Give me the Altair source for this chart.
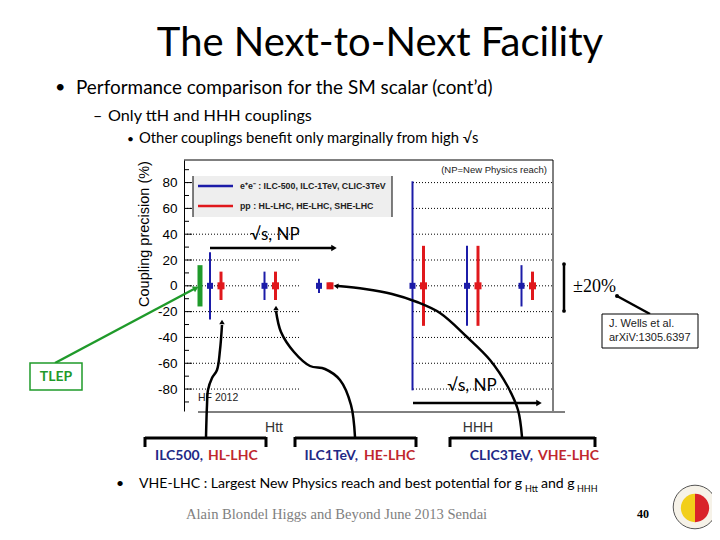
import altair as alt
import pandas as pd

# ---------------- data ----------------
ee_facilities = ["ILC-500", "ILC-1TeV", "CLIC-3TeV"]
pp_facilities = ["HL-LHC", "HE-LHC", "SHE-LHC"]
htt_ee = [26, 11, 5.5]      # Htt coupling precision (+/- %), e+e-
htt_pp = [11, 11, 2.5]      # Htt, pp
hhh_ee = [81, 31, 16]       # HHH, e+e-
hhh_pp = [31, 31, 11]       # HHH, pp
tlep_htt = [16]             # TLEP Htt
y_major = [-80, -60, -40, -20, 0, 20, 40, 60, 80]
y_minor = [-90, -70, -50, -30, -10, 10, 30, 50, 70, 90]
bracket_ee = ["ILC500,", "ILC1TeV,", "CLIC3TeV,"]
bracket_pp = ["HL-LHC", "HE-LHC", "VHE-LHC"]

# ---------------- layout ----------------
PX0, PY0, W, H = 184, 160, 369, 251
SLOT, SLOT0 = 54.5, 215.5
XMIN, XMAX = (PX0 - SLOT0) / SLOT, (PX0 + W - SLOT0) / SLOT
YMIN, YMAX = -97.0, 97.5
PANEL = {"Htt": 0.0, "HHH": (418 - SLOT0) / SLOT}
OFF = 5.5 / SLOT

BLUE, RED, GREEN = "#1c1ca8", "#e0181c", "#1f9a2a"
NAVY, DRED = "#1f2a86", "#c0272d"

xs = alt.Scale(domain=[XMIN, XMAX], nice=False, zero=False)
ys = alt.Scale(domain=[YMIN, YMAX], nice=False, zero=False)
yaxis = alt.Axis(values=y_major, labelExpr="'' + datum.value", labelFont="Liberation Sans",
                 labelFontSize=13.5, labelColor="black", labelPadding=7, ticks=False, tickSize=0,
                 domain=True, domainColor="black", domainWidth=1, grid=False)


def X(f):
    return alt.X(f, scale=xs, axis=None)


def Y(f):
    return alt.Y(f, scale=ys, axis=yaxis, title=None)


def dx(px):
    return XMIN + (px - PX0) / W * (XMAX - XMIN)


def dy(py):
    return YMAX - (py - PY0) / H * (YMAX - YMIN)


dummy = pd.DataFrame({"k": [0]})


def txt(s, x, y, size, font="Liberation Sans", color="black", align="left",
        baseline="middle", weight="normal", angle=0):
    kw = dict(text=s, align=align, baseline=baseline, font=font, fontSize=size,
              color=color, fontWeight=weight)
    if angle:
        kw["angle"] = angle
    return alt.Chart(dummy).mark_text(**kw).encode(x=alt.value(x - PX0), y=alt.value(y - PY0))


def seg(x1, y1, x2, y2, color="black", w=1.0, dash=None):
    kw = dict(color=color, strokeWidth=w)
    if dash:
        kw["strokeDash"] = dash
    return alt.Chart(dummy).mark_rule(**kw).encode(
        x=alt.value(x1 - PX0), y=alt.value(y1 - PY0), x2=alt.value(x2 - PX0), y2=alt.value(y2 - PY0))


def box(x1, y1, x2, y2, fill="white", stroke=None, w=1.0):
    kw = dict(fill=fill)
    if stroke:
        kw.update(stroke=stroke, strokeWidth=w)
    return alt.Chart(dummy).mark_rect(**kw).encode(
        x=alt.value(x1 - PX0), y=alt.value(y1 - PY0), x2=alt.value(x2 - PX0), y2=alt.value(y2 - PY0))


def pt(x, y, shape, size, color="black", angle=0, filled=True, stroke=None):
    kw = dict(shape=shape, size=size, filled=filled, opacity=1)
    if filled:
        kw["fill"] = color
        kw["strokeWidth"] = 0
    if stroke:
        kw["stroke"] = stroke
        kw["strokeWidth"] = 1
    if angle:
        kw["angle"] = angle
    return alt.Chart(dummy).mark_point(**kw).encode(x=alt.value(x - PX0), y=alt.value(y - PY0))


def curve(points, color="black", w=2.5):
    df = pd.DataFrame({"xd": [dx(p[0]) for p in points], "yd": [dy(p[1]) for p in points],
                       "o": list(range(len(points)))})
    return alt.Chart(df).mark_line(color=color, strokeWidth=w, interpolate="catmull-rom").encode(
        x=X("xd:Q"), y=Y("yd:Q"), order="o:Q")


# ---------------- build data tables ----------------
rows = []
for c, ee, pp in [("Htt", htt_ee, htt_pp), ("HHH", hhh_ee, hhh_pp)]:
    for i in range(3):
        rows.append(dict(coupling=c, kind="ee", fac=ee_facilities[i], x=PANEL[c] + i - OFF,
                         lo=-ee[i], hi=ee[i], c0=0))
        rows.append(dict(coupling=c, kind="pp", fac=pp_facilities[i], x=PANEL[c] + i + OFF,
                         lo=-pp[i], hi=pp[i], c0=0))
bars = pd.DataFrame(rows)
ee_df = bars[bars.kind == "ee"]
pp_df = bars[bars.kind == "pp"]
tlep_df = pd.DataFrame({"x": [(200 - SLOT0) / SLOT], "lo": [-tlep_htt[0]], "hi": [tlep_htt[0]]})

grid_df = pd.DataFrame({"v": y_major})

layers = []

# axis ticks (inward)
layers.append(alt.Chart(pd.DataFrame({"v": y_major})).mark_rule(color="black", strokeWidth=1).encode(
    y=Y("v:Q"), x=alt.value(0), x2=alt.value(8)))
layers.append(alt.Chart(pd.DataFrame({"v": y_minor})).mark_rule(color="black", strokeWidth=1).encode(
    y=Y("v:Q"), x=alt.value(0), x2=alt.value(5)))

# dotted grids in the two panels
layers.append(alt.Chart(grid_df).mark_rule(color="black", strokeWidth=1, strokeDash=[1, 2]).encode(
    y=Y("v:Q"), x=alt.value(0), x2=alt.value(300 - PX0)))
layers.append(alt.Chart(grid_df).mark_rule(color="black", strokeWidth=1, strokeDash=[1, 2]).encode(
    y=Y("v:Q"), x=alt.value(413 - PX0), x2=alt.value(W)))

# frame
layers.append(seg(PX0, PY0, PX0 + W, PY0))
layers.append(seg(PX0 + W, PY0, PX0 + W, PY0 + H))
layers.append(seg(198, 412, 565, 412))

# legend
layers.append(box(193, 176, 392, 217, fill="#eeeeee"))
layers.append(seg(193, 176, 193, 217))
layers.append(seg(392, 176, 392, 217))
layers.append(seg(198, 186, 233, 186, color=BLUE, w=2.5))
layers.append(seg(198, 206, 233, 206, color=RED, w=2.5))
layers.append(txt("e\u207ae\u207b : " + ", ".join(ee_facilities), 240, 186, 8.8, weight="bold", color="#222"))
layers.append(txt("pp : " + ", ".join(pp_facilities), 240, 206, 8.8, weight="bold", color="#222"))
layers.append(txt("(NP=New Physics reach)", 547, 170, 9.5, align="right", color="#222"))

# error bars
layers.append(alt.Chart(tlep_df).mark_rule(color=GREEN, strokeWidth=5).encode(
    x=X("x:Q"), y=Y("lo:Q"), y2="hi:Q"))
layers.append(alt.Chart(ee_df).mark_rule(color=BLUE, strokeWidth=2).encode(
    x=X("x:Q"), y=Y("lo:Q"), y2="hi:Q"))
layers.append(alt.Chart(pp_df).mark_rule(color=RED, strokeWidth=3).encode(
    x=X("x:Q"), y=Y("lo:Q"), y2="hi:Q"))
layers.append(alt.Chart(ee_df).mark_square(color=BLUE, size=36, opacity=1).encode(
    x=X("x:Q"), y=Y("c0:Q")))
layers.append(alt.Chart(pp_df).mark_square(color=RED, size=49, opacity=1).encode(
    x=X("x:Q"), y=Y("c0:Q")))

# y title and panel labels
layers.append(txt("Coupling precision (%)", 145, 234, 14.5, align="center", angle=270))
layers.append(txt("HF 2012", 198, 398, 10.5, color="#222"))
layers.append(txt("Htt", 274, 428, 14, align="center", color="#333"))
layers.append(txt("HHH", 478, 428, 14, align="center", color="#333"))

# sqrt(s), NP arrows
layers.append(txt("\u221as, NP", 275, 235, 17, font="Lato", align="center"))
layers.append(seg(210, 248, 332, 248, w=2.5))
layers.append(pt(334, 248, "triangle-right", 40))
layers.append(txt("\u221as, NP", 472, 386, 17, font="Lato", align="center"))
layers.append(seg(413, 403, 537, 403, w=2.5))
layers.append(pt(539, 403, "triangle-right", 40))

# +-20% scale
layers.append(seg(564, 264, 564, 311, w=2.5))
layers.append(pt(564, 264, "circle", 14))
layers.append(pt(564, 311, "circle", 14))
layers.append(txt("\u00b120%", 573, 287, 18, font="Liberation Serif"))

# Wells reference box
layers.append(seg(617, 296, 650, 314, w=2.5))
layers.append(pt(617, 296, "circle", 16))
layers.append(box(602, 314, 698, 348, fill="white", stroke="black", w=1))
layers.append(txt("J. Wells et al.", 609, 324, 11, color="#222"))
layers.append(txt("arXiV:1305.6397", 609, 338, 11, color="#222"))

# TLEP box and green arrow
layers.append(seg(55, 363, 194, 289, color=GREEN, w=2.5))
layers.append(pt(196, 288, "triangle-up", 45, color=GREEN, angle=62))
layers.append(box(30, 363, 82, 390, fill="white", stroke=GREEN, w=1.5))
layers.append(txt("TLEP", 56, 377, 14, font="Lato", weight="bold", color=GREEN, align="center"))

# curves to brackets
layers.append(curve([(206, 437), (207, 405), (208, 390), (212, 378), (217, 370), (220, 350), (222, 325)]))
layers.append(pt(222, 322, "triangle-up", 30))
layers.append(curve([(355, 437), (351, 405), (340, 380), (325, 369), (310, 366), (294, 352),
                     (281, 332), (276, 311)]))
layers.append(pt(276, 308, "triangle-up", 30))
layers.append(curve([(338, 286), (365, 289), (392, 294), (417, 302), (440, 313), (467, 337),
                     (490, 360), (508, 387), (518, 410), (522, 437)]))
layers.append(pt(336, 286, "triangle-left", 30, angle=8))

# brackets
for (l, r, c) in [(145, 266, 207), (295, 416, 355), (450, 595, 522)]:
    layers.append(seg(l, 438, r, 438, w=3))
    layers.append(seg(l, 437, l, 447, w=3))
    layers.append(seg(r, 437, r, 447, w=3))
for lab_ee, lab_pp, split in zip(bracket_ee, bracket_pp, [(203, 208), (358, 364), (533, 538)]):
    layers.append(txt(lab_ee, split[0], 456, 14, font="Lato", weight="bold", color=NAVY, align="right"))
    layers.append(txt(lab_pp, split[1], 456, 14, font="Lato", weight="bold", color=DRED))

# slide texts
layers.append(txt("The Next-to-Next Facility", 380, 44, 40, font="Lato", align="center"))
layers.append(txt("\u2022", 55, 88, 18, font="Lato"))
layers.append(txt("Performance comparison for the SM scalar (cont\u2019d)", 76, 88, 18.9, font="Lato"))
layers.append(txt("\u2013", 93, 116, 16, font="Lato"))
layers.append(txt("Only ttH and HHH couplings", 108, 116, 16.2, font="Lato"))
layers.append(txt("\u2022", 127, 139, 12, font="Lato"))
layers.append(txt("Other couplings benefit only marginally from high \u221as", 139, 139, 14.8, font="Lato"))

layers.append(txt("\u2022", 116, 484, 14, font="Lato"))
layers.append(txt("VHE-LHC : Largest New Physics reach and best potential for g", 139, 484, 14.1, font="Lato"))
layers.append(txt("Htt", 525, 489, 9, font="Lato"))
layers.append(txt("and g", 541, 484, 14.1, font="Lato"))
layers.append(txt("HHH", 577, 489, 9, font="Lato"))

layers.append(txt("Alain Blondel Higgs and Beyond  June 2013 Sendai", 186, 515, 14.6,
                  font="Liberation Serif", color="#808080"))
layers.append(txt("40", 643, 514, 12, font="Liberation Serif", weight="bold", align="center"))

# logo (simplified)
layers.append(pt(695, 507, "circle", 1900, color="#f6f2e8", filled=True))
layers.append(pt(695, 507, "circle", 1900, filled=False, stroke="#555"))
layers.append(pt(695, 508, "M 0 -1 A 1 1 0 0 0 0 1 Z", 800, color="#f2cf1a"))
layers.append(pt(695, 508, "M 0 -1 A 1 1 0 0 1 0 1 Z", 800, color="#d9232a"))

chart = alt.layer(*layers, data=dummy).properties(
    width=W, height=H,
    padding={"left": PX0 - 8, "top": PY0 - 8, "right": 704 - (PX0 - 8) - W, "bottom": 524 - (PY0 - 8) - H},
    autosize=alt.AutoSizeParams(type="none"),
    background="white",
).configure_view(stroke=None)

chart.save("out.html", embed_options={"renderer": "svg", "actions": False})
